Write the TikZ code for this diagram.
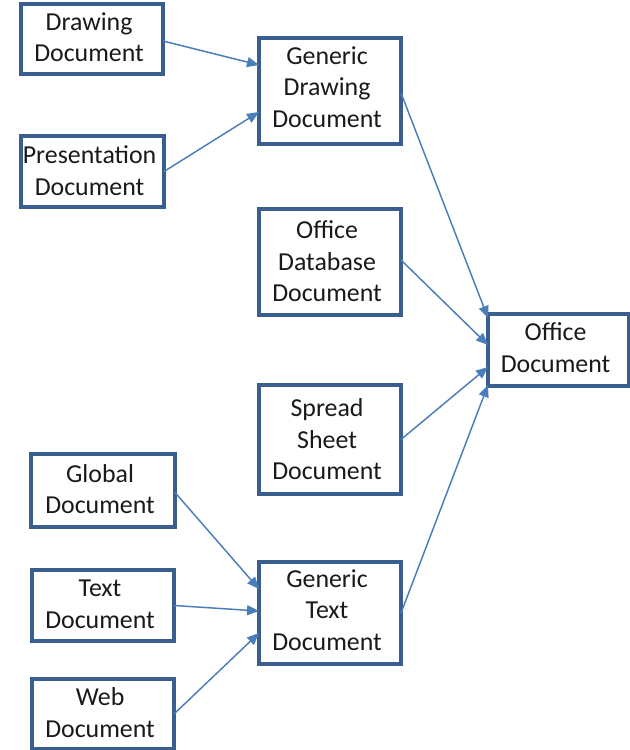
\documentclass[tikz,border=0pt]{standalone}
\usepackage{fontspec}
\setmainfont{Carlito}
\usetikzlibrary{arrows.meta,calc}
\definecolor{boxblue}{HTML}{3A5F8F}
\definecolor{linkblue}{HTML}{4A7EBB}
\definecolor{inktext}{HTML}{1A1A1A}
\tikzset{
  docbox/.style={draw=boxblue, line width=2.4pt, fill=white,
    inner sep=0pt, outer sep=0pt},
  doctext/.style={text=inktext, align=center, inner sep=0pt,
    font=\fontsize{19.4}{23.7}\selectfont, xshift=-2.2pt},
  boxsize/.style 2 args={minimum width=#1*0.75pt, minimum height=#2*0.75pt},
  caption/.style 2 args={label={[doctext, yshift=#1*0.75pt]center:{#2}}},
  link/.style={draw=linkblue, line width=1.1pt,
    -{Triangle[length=9pt,width=7.5pt]}}
}
\begin{document}
\begin{tikzpicture}[x=0.75pt,y=-0.75pt]
  \useasboundingbox (0,0) rectangle (630,750);

  % document types
  \node[docbox, boxsize={142}{70},  caption={2}{Drawing\\Document}]              (dd)  at (92,39)      {};
  \node[docbox, boxsize={143}{71},  caption={1}{Presentation\\Document}]         (pd)  at (92.5,171.5) {};
  \node[docbox, boxsize={142}{106}, caption={4}{Generic\\Drawing\\Document}]     (gd)  at (330,91)     {};
  \node[docbox, boxsize={142}{106}, caption={0.5}{Office\\Database\\Document}]   (odb) at (330,262)    {};
  \node[docbox, boxsize={142}{109}, caption={0}{Spread\\Sheet\\Document}]        (ss)  at (330,439.5)  {};
  \node[docbox, boxsize={142}{102}, caption={3}{Generic\\Text\\Document}]        (gt)  at (330,613)    {};
  \node[docbox, boxsize={141}{72},  caption={2.5}{Office\\Document}]             (od)  at (558.5,350)  {};
  \node[docbox, boxsize={144}{73},  caption={1.5}{Global\\Document}]             (gl)  at (103,490.5)  {};
  \node[docbox, boxsize={142}{71},  caption={1.5}{Text\\Document}]               (td)  at (103,605.5)  {};
  \node[docbox, boxsize={142}{70},  caption={1.5}{Web\\Document}]                (wd)  at (103,714)    {};

  % inheritance links
  \draw[link] ($(dd.east)+(0,2)$)   -- ($(gd.west)+(0,-26)$);
  \draw[link] (pd.east)             -- ($(gd.west)+(0,21)$);
  \draw[link] ($(gd.east)+(0,2)$)   -- ($(od.west)+(0,-32)$);
  \draw[link] ($(odb.east)+(0,-2)$) -- ($(od.west)+(0,-5)$);
  \draw[link] (ss.east)             -- ($(od.west)+(0,17)$);
  \draw[link] (gt.east)             -- ($(od.west)+(0,35)$);
  \draw[link] ($(gl.east)+(0,2)$)   -- ($(gt.west)+(0,-24)$);
  \draw[link] (td.east)             -- ($(gt.west)+(0,-2)$);
  \draw[link] (wd.east)             -- ($(gt.west)+(0,20)$);
\end{tikzpicture}
\end{document}
